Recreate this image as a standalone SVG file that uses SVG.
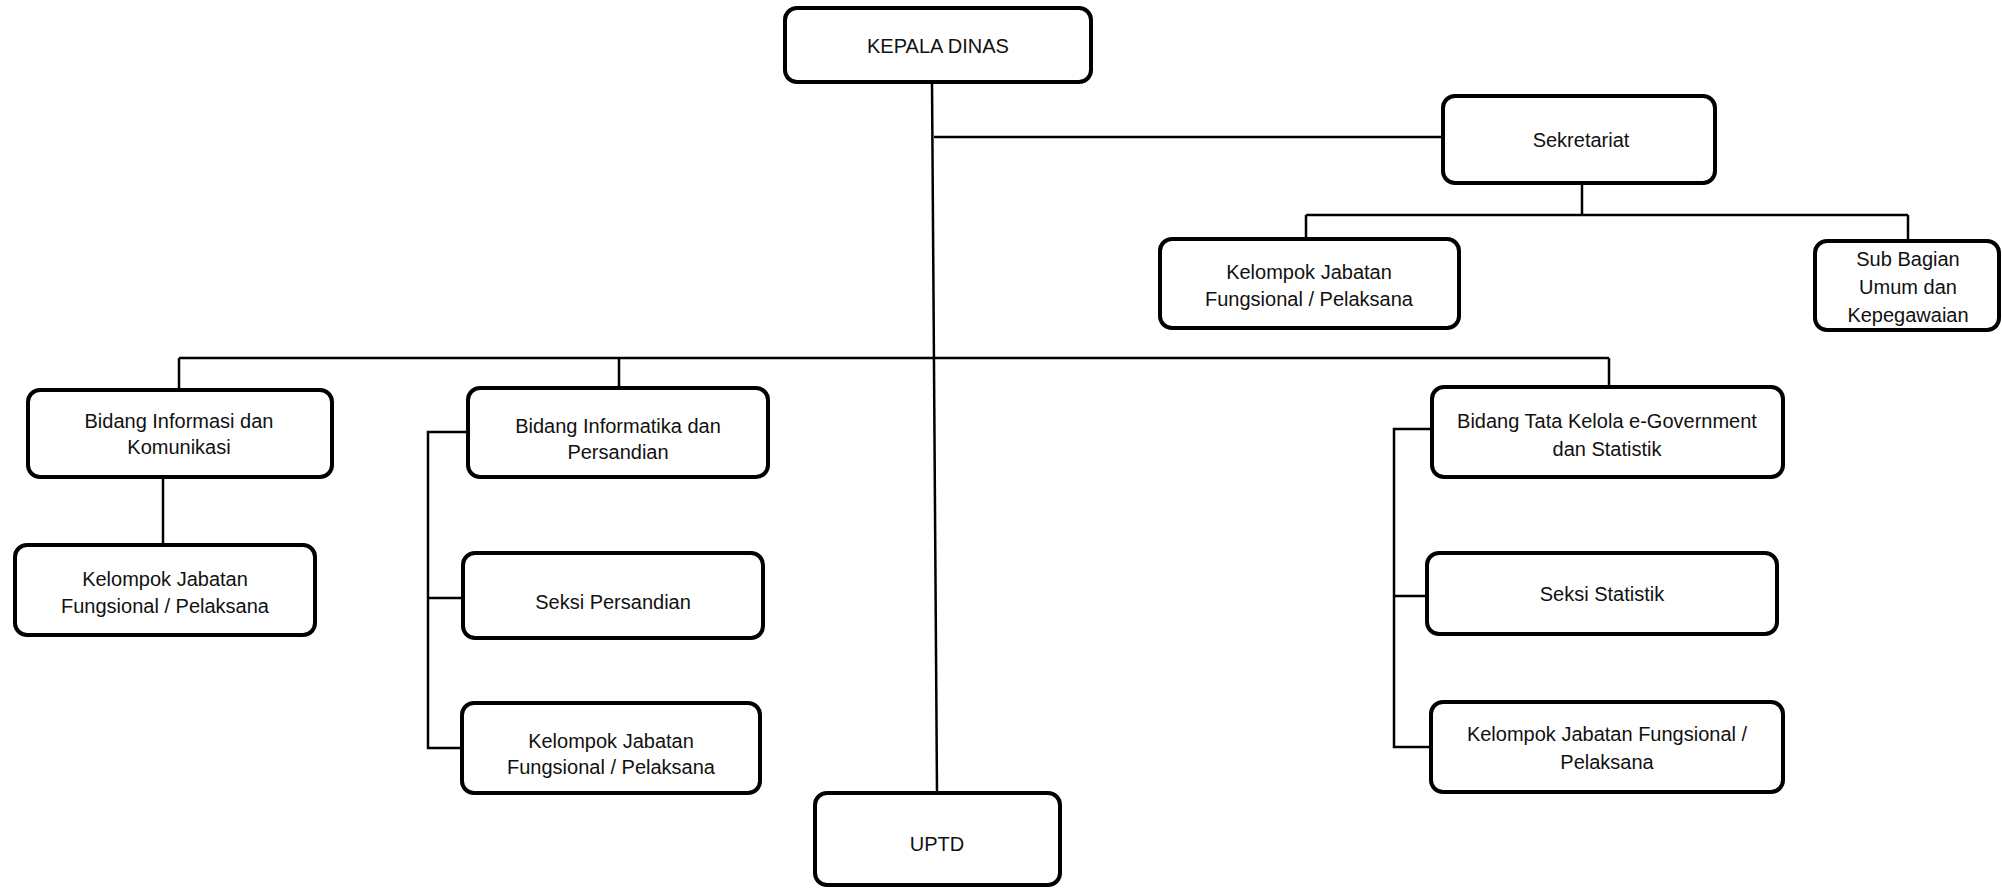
<svg xmlns="http://www.w3.org/2000/svg" width="2002" height="889" viewBox="0 0 2002 889">
<style>
.box{fill:#fff;stroke:#000;stroke-width:4}
.ln{fill:none;stroke:#000;stroke-width:2.5}
text{font-family:"Liberation Sans",Arial,sans-serif;font-size:20px;fill:#111;text-anchor:middle}
</style>
<rect width="2002" height="889" fill="#fff"/>
<g id="connectors">
<path class="ln" d="M932,82 L937,793"/>
<path class="ln" d="M934,137 H1443"/>
<path class="ln" d="M1582,183 V215 M1306,215 H1908 M1306,215 V239 M1908,215 V241"/>
<path class="ln" d="M179,358 H1609 M179,358 V390 M619,358 V388 M1609,358 V387"/>
<path class="ln" d="M163,477 V545"/>
<path class="ln" d="M468,432 H428 V748 H462 M428,598 H463"/>
<path class="ln" d="M1432,429 H1394 V747 H1431 M1394,596 H1427"/>
</g>
<g id="kepala"><rect class="box" x="785" y="8" width="306" height="74" rx="12"/><text x="938" y="53">KEPALA DINAS</text></g>
<g id="sekretariat"><rect class="box" x="1443" y="96" width="272" height="87" rx="12"/><text x="1581" y="147">Sekretariat</text></g>
<g id="kjf-sekretariat"><rect class="box" x="1160" y="239" width="299" height="89" rx="12"/><text x="1309" y="279">Kelompok Jabatan</text><text x="1309" y="306">Fungsional / Pelaksana</text></g>
<g id="subbagian"><rect class="box" x="1815" y="241" width="184" height="89" rx="12"/><text x="1908" y="266">Sub Bagian</text><text x="1908" y="294">Umum dan</text><text x="1908" y="322">Kepegawaian</text></g>
<g id="bidang-infokom"><rect class="box" x="28" y="390" width="304" height="87" rx="12"/><text x="179" y="428">Bidang Informasi dan</text><text x="179" y="454">Komunikasi</text></g>
<g id="kjf-infokom"><rect class="box" x="15" y="545" width="300" height="90" rx="12"/><text x="165" y="586">Kelompok Jabatan</text><text x="165" y="613">Fungsional / Pelaksana</text></g>
<g id="bidang-informatika"><rect class="box" x="468" y="388" width="300" height="89" rx="12"/><text x="618" y="433">Bidang Informatika dan</text><text x="618" y="459">Persandian</text></g>
<g id="seksi-persandian"><rect class="box" x="463" y="553" width="300" height="85" rx="12"/><text x="613" y="609">Seksi Persandian</text></g>
<g id="kjf-informatika"><rect class="box" x="462" y="703" width="298" height="90" rx="12"/><text x="611" y="748">Kelompok Jabatan</text><text x="611" y="774">Fungsional / Pelaksana</text></g>
<g id="uptd"><rect class="box" x="815" y="793" width="245" height="92" rx="12"/><text x="937" y="851">UPTD</text></g>
<g id="bidang-egov"><rect class="box" x="1432" y="387" width="351" height="90" rx="12"/><text x="1607" y="428">Bidang Tata Kelola e-Government</text><text x="1607" y="456">dan Statistik</text></g>
<g id="seksi-statistik"><rect class="box" x="1427" y="553" width="350" height="81" rx="12"/><text x="1602" y="601">Seksi Statistik</text></g>
<g id="kjf-egov"><rect class="box" x="1431" y="702" width="352" height="90" rx="12"/><text x="1607" y="741">Kelompok Jabatan Fungsional /</text><text x="1607" y="769">Pelaksana</text></g>
</svg>
